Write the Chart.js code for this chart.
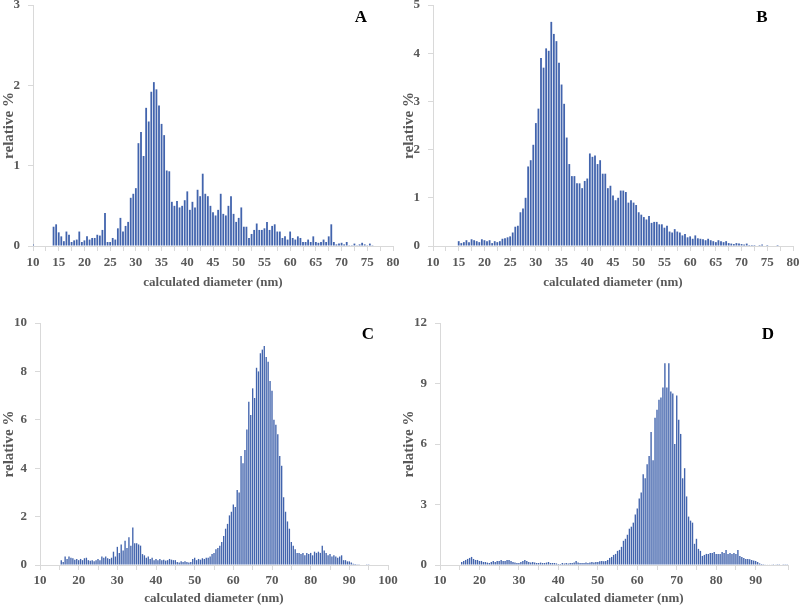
<!DOCTYPE html>
<html>
<head>
<meta charset="utf-8">
<script src="https://cdn.jsdelivr.net/npm/chart.js@4.4.1/dist/chart.umd.min.js"></script>
<style>
	body { margin: 0; background: #fff; }
	#wrap { position: relative; width: 800px; height: 606px; }
	canvas { position: absolute; }
</style>
</head>
<body>
<div id="wrap">
	<canvas id="chartA" width="400" height="300" style="left:0;top:0"></canvas>
	<canvas id="chartB" width="400" height="300" style="left:400px;top:0"></canvas>
	<canvas id="chartC" width="400" height="303" style="left:0;top:303px"></canvas>
	<canvas id="chartD" width="400" height="303" style="left:400px;top:303px"></canvas>
</div>
<script>
// bin width (nm) and first bin of every panel
var binStep = 0.5;
var binStart = 10;

// A : 10 .. 80 nm, one row = 5 nm
var valuesA = [
	0.02, 0, 0, 0, 0, 0, 0, 0, 0.24, 0.27,
	0.17, 0.12, 0.06, 0.18, 0.14, 0.05, 0.07, 0.08, 0.18, 0.05,
	0.07, 0.12, 0.08, 0.1, 0.1, 0.14, 0.13, 0.2, 0.41, 0.05,
	0.05, 0.1, 0.08, 0.22, 0.35, 0.18, 0.25, 0.3, 0.6, 0.65,
	0.72, 1.28, 1.42, 1.12, 1.72, 1.55, 1.92, 2.04, 1.95, 1.75,
	1.52, 1.38, 0.94, 0.93, 0.55, 0.5, 0.56, 0.48, 0.5, 0.57,
	0.68, 0.45, 0.55, 0.48, 0.7, 0.62, 0.9, 0.65, 0.62, 0.5,
	0.42, 0.38, 0.45, 0.65, 0.4, 0.38, 0.5, 0.62, 0.4, 0.3,
	0.35, 0.48, 0.24, 0.24, 0.1, 0.15, 0.2, 0.28, 0.2, 0.2,
	0.22, 0.3, 0.2, 0.25, 0.27, 0.18, 0.18, 0.1, 0.12, 0.08,
	0.18, 0.1, 0.08, 0.12, 0.1, 0.05, 0.05, 0.08, 0.05, 0.12,
	0.05, 0.04, 0.05, 0.08, 0.05, 0.12, 0.27, 0.05, 0.02, 0.03,
	0.04, 0.02, 0.05, 0.01, 0.01, 0.03, 0.01, 0.02, 0.04, 0.02,
	0.01, 0.03, 0.01, 0, 0, 0, 0, 0, 0, 0,
	0
];

// B : 10 .. 80 nm
var valuesB = [
	0, 0, 0, 0, 0, 0, 0, 0, 0, 0,
	0.1, 0.06, 0.08, 0.12, 0.08, 0.14, 0.12, 0.1, 0.08, 0.14,
	0.12, 0.1, 0.12, 0.06, 0.1, 0.08, 0.1, 0.15, 0.16, 0.18,
	0.2, 0.28, 0.4, 0.42, 0.7, 0.78, 1.0, 1.65, 1.78, 2.1,
	2.55, 2.85, 3.9, 3.7, 4.1, 4.05, 4.65, 4.4, 4.25, 3.8,
	3.35, 2.95, 2.25, 1.7, 1.45, 1.45, 1.3, 1.3, 1.2, 1.35,
	1.4, 1.92, 1.85, 1.88, 1.7, 1.78, 1.5, 1.5, 1.2, 1.25,
	1.05, 0.95, 1.0, 1.15, 1.15, 1.12, 0.9, 0.95, 0.9, 0.85,
	0.7, 0.65, 0.6, 0.55, 0.62, 0.48, 0.5, 0.5, 0.45, 0.45,
	0.38, 0.42, 0.3, 0.28, 0.35, 0.3, 0.28, 0.22, 0.25, 0.18,
	0.2, 0.15, 0.22, 0.16, 0.15, 0.14, 0.12, 0.15, 0.12, 0.1,
	0.08, 0.12, 0.1, 0.08, 0.1, 0.06, 0.05, 0.04, 0.06, 0.05,
	0.04, 0.03, 0.05, 0.02, 0.02, 0.02, 0.01, 0.02, 0.03, 0.01,
	0.02, 0.01, 0.01, 0.01, 0.02, 0, 0, 0, 0, 0,
	0
];

// C : 10 .. 100 nm
var valuesC = [
	0, 0, 0, 0, 0, 0, 0, 0, 0, 0,
	0, 0.2, 0.12, 0.35, 0.25, 0.35, 0.3, 0.28, 0.22, 0.25,
	0.2, 0.25, 0.2, 0.28, 0.3, 0.2, 0.18, 0.2, 0.15, 0.2,
	0.25, 0.2, 0.35, 0.3, 0.35, 0.28, 0.25, 0.3, 0.55, 0.35,
	0.75, 0.5, 0.85, 0.6, 1.0, 0.7, 1.15, 0.8, 1.55, 0.9,
	0.9, 0.85, 0.8, 0.45, 0.4, 0.3, 0.35, 0.25, 0.3, 0.2,
	0.25, 0.2, 0.25, 0.2, 0.22, 0.18, 0.2, 0.25, 0.22, 0.2,
	0.2, 0.12, 0.1, 0.15, 0.12, 0.15, 0.12, 0.1, 0.12, 0.25,
	0.3, 0.2, 0.25, 0.22, 0.28, 0.25, 0.3, 0.3, 0.35, 0.45,
	0.5, 0.65, 0.7, 0.8, 0.95, 1.2, 1.5, 1.7, 2.05, 2.2,
	2.5, 2.4, 3.1, 3.0, 4.5, 4.2, 4.75, 5.6, 6.75, 6.2,
	7.3, 6.9, 8.15, 8.0, 8.75, 8.9, 9.05, 8.6, 8.4, 7.6,
	7.2, 6.0, 5.8, 5.4, 4.5, 4.1, 2.8, 2.2, 1.8, 1.5,
	0.95, 0.8, 0.65, 0.5, 0.5, 0.45, 0.5, 0.4, 0.5, 0.45,
	0.5, 0.4, 0.55, 0.5, 0.55, 0.5, 0.8, 0.6, 0.5, 0.4,
	0.45, 0.35, 0.4, 0.35, 0.3, 0.35, 0.4, 0.2, 0.2, 0.15,
	0.15, 0.1, 0.05, 0.04, 0.03, 0.03, 0.02, 0.02, 0.02, 0.01,
	0.01, 0, 0, 0, 0, 0, 0, 0, 0, 0,
	0
];

// D : 10 .. 98 nm
var valuesD = [
	0, 0, 0, 0, 0, 0, 0, 0, 0, 0,
	0, 0.15, 0.2, 0.25, 0.3, 0.35, 0.4, 0.3, 0.25, 0.25,
	0.2, 0.2, 0.15, 0.15, 0.12, 0.1, 0.15, 0.2, 0.15, 0.2,
	0.2, 0.25, 0.2, 0.2, 0.25, 0.25, 0.2, 0.15, 0.12, 0.1,
	0.1, 0.15, 0.2, 0.25, 0.2, 0.15, 0.12, 0.15, 0.12, 0.1,
	0.1, 0.12, 0.1, 0.1, 0.12, 0.15, 0.1, 0.1, 0.1, 0.08,
	0.05, 0.05, 0.1, 0.08, 0.1, 0.08, 0.1, 0.1, 0.12, 0.2,
	0.12, 0.1, 0.1, 0.1, 0.12, 0.1, 0.12, 0.15, 0.12, 0.15,
	0.15, 0.18, 0.2, 0.18, 0.2, 0.25, 0.35, 0.4, 0.5, 0.55,
	0.7, 0.75, 0.9, 1.2, 1.3, 1.5, 1.8, 1.9, 2.1, 2.5,
	2.8, 3.3, 3.6, 4.5, 4.3, 5.0, 5.4, 6.6, 5.2, 7.3,
	7.7, 8.2, 8.3, 8.8, 10.0, 8.8, 10.0, 8.6, 8.5, 6.0,
	8.4, 7.2, 6.5, 4.3, 4.8, 3.4, 2.4, 2.2, 2.1, 1.05,
	1.3, 0.8, 0.7, 0.45, 0.5, 0.55, 0.55, 0.6, 0.6, 0.65,
	0.55, 0.55, 0.55, 0.65, 0.6, 0.75, 0.55, 0.6, 0.55, 0.6,
	0.55, 0.75, 0.45, 0.4, 0.35, 0.3, 0.3, 0.28, 0.25, 0.22,
	0.2, 0.15, 0.08, 0.05, 0.04, 0.03, 0.02, 0.02, 0.02, 0.01,
	0.02, 0.01, 0.01, 0.02, 0.01, 0.01, 0.01, 0
];

// axis ticks
var yTicksA = [0, 1, 2, 3];
var yTicksB = [0, 1, 2, 3, 4, 5];
var yTicksC = [0, 2, 4, 6, 8, 10];
var yTicksD = [0, 3, 6, 9, 12];

var xTitle = 'calculated diameter (nm)';
var yTitle = 'relative %';

var axisGray = '#d9d9d9';
var textGray = '#595959';
var barBlue = '#4264ad';
var serif = '"Liberation Serif", "Times New Roman", serif';

function toPoints(values) {
	var pts = [];
	for (var i = 0; i < values.length; i++) {
		pts.push({ x: binStart + i * binStep, y: values[i] });
	}
	return pts;
}

// draws the panel letter (A, B, C, D)
var letterPlugin = {
	id: 'panelLetter',
	afterDraw: function(chart, args, o) {
		var ctx = chart.ctx;
		ctx.save();
		ctx.font = 'bold 17px ' + serif;
		ctx.fillStyle = '#000';
		ctx.textAlign = 'center';
		ctx.textBaseline = 'middle';
		ctx.fillText(o.text, o.x, o.y);
		ctx.restore();
	}
};

function makePanel(id, p) {
	var ctx = document.getElementById(id).getContext('2d');
	return new Chart(ctx, {
		type: 'bar',
		data: {
			datasets: [{
				data: toPoints(p.values),
				backgroundColor: barBlue,
				borderWidth: 0,
				barPercentage: 0.7,
				categoryPercentage: 1.0
			}]
		},
		plugins: [letterPlugin],
		options: {
			responsive: false,
			animation: false,
			layout: { padding: { top: p.top, right: p.right, bottom: p.bottom, left: 0 } },
			plugins: {
				legend: { display: false },
				tooltip: { enabled: false },
				panelLetter: { text: p.letter, x: p.letterX, y: p.letterY }
			},
			scales: {
				x: {
					type: 'linear',
					offset: false,
					min: binStart,
					max: p.xMax,
					grid: { display: true, drawOnChartArea: false, drawTicks: true, tickLength: 5, color: axisGray, offset: false },
					border: { display: true, color: axisGray },
					ticks: {
						stepSize: p.xMinor,
						maxRotation: 0,
						autoSkip: false,
						padding: p.xPad,
						color: textGray,
						font: { family: serif, size: 13, weight: 'bold' },
						callback: function(v) {
							var r = Math.abs(v % p.xLabelEvery);
							return (r < 1e-6 || Math.abs(r - p.xLabelEvery) < 1e-6) ? String(Math.round(v)) : '';
						}
					},
					title: {
						display: true,
						text: xTitle,
						color: textGray,
						padding: 0,
						font: { family: serif, size: 13, weight: 'bold' }
					},
					afterFit: function(scale) {
						scale.height = p.xHeight;
						scale.paddingLeft = 0;
						scale.paddingRight = 0;
					}
				},
				y: {
					min: 0,
					max: p.yTicks[p.yTicks.length - 1],
					afterBuildTicks: function(scale) {
						scale.ticks = p.yTicks.map(function(v) { return { value: v }; });
					},
					grid: { display: true, drawOnChartArea: false, drawTicks: true, tickLength: 5, color: axisGray },
					border: { display: true, color: axisGray },
					ticks: {
						padding: 8,
						color: textGray,
						font: { family: serif, size: 13, weight: 'bold' }
					},
					title: {
						display: true,
						text: yTitle,
						color: textGray,
						padding: 0,
						font: { family: serif, size: 15, weight: 'bold' }
					},
					afterFit: function(scale) {
						scale.width = p.left;
						scale.paddingTop = 0;
						scale.paddingBottom = 0;
					}
				}
			}
		}
	});
}

makePanel('chartA', {
	values: valuesA, yTicks: yTicksA, xMax: 80, xMinor: 2.5, xLabelEvery: 5,
	left: 33, top: 5, right: 7, bottom: 10, xHeight: 44, xPad: 4,
	letter: 'A', letterX: 361, letterY: 18
});
makePanel('chartB', {
	values: valuesB, yTicks: yTicksB, xMax: 80, xMinor: 2.5, xLabelEvery: 5,
	left: 33, top: 5, right: 7, bottom: 10, xHeight: 44, xPad: 4,
	letter: 'B', letterX: 362, letterY: 18
});
makePanel('chartC', {
	values: valuesC, yTicks: yTicksC, xMax: 100, xMinor: 5, xLabelEvery: 10,
	left: 40, top: 20, right: 12, bottom: 0, xHeight: 41, xPad: 3,
	letter: 'C', letterX: 368, letterY: 32
});
makePanel('chartD', {
	values: valuesD, yTicks: yTicksD, xMax: 98.2, xMinor: 5, xLabelEvery: 10,
	left: 40, top: 20, right: 12, bottom: 0, xHeight: 41, xPad: 3,
	letter: 'D', letterX: 368, letterY: 32
});
</script>
</body>
</html>
